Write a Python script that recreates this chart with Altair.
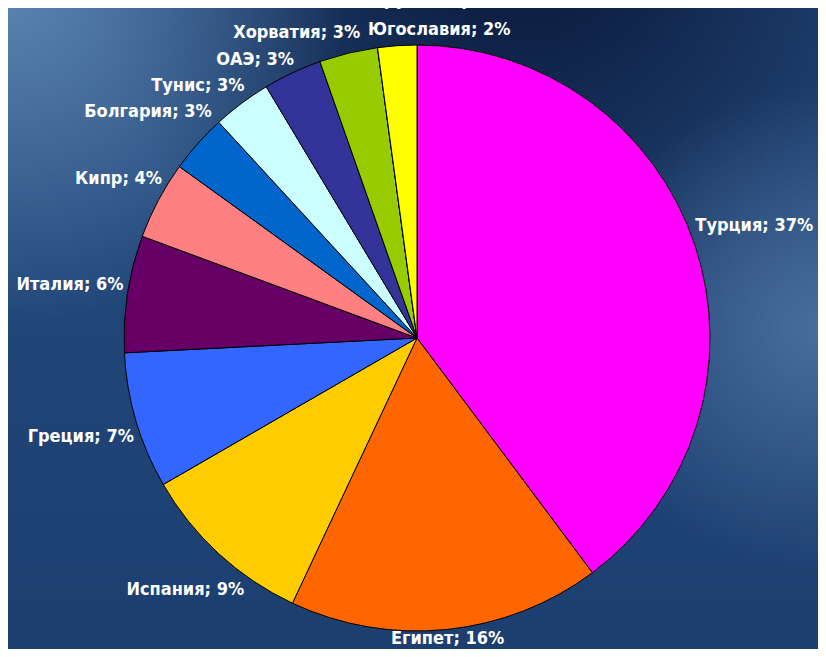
import math
import altair as alt
import pandas as pd

# ---- data ----
countries = ["Турция", "Египет", "Испания", "Греция", "Италия", "Кипр",
             "Болгария", "Тунис", "ОАЭ", "Хорватия", "Другие страны", "Югославия"]
shares = [37, 16, 9, 7, 6, 4, 3, 3, 3, 3, 0, 2]
slice_colors = ["#FF00FF", "#FF6600", "#FFCC00", "#3366FF", "#660066", "#FF8080",
                "#0066CC", "#CCFFFF", "#333399", "#99CC00", "#808080", "#FFFF00"]

# ---- layout constants ----
W, H = 810, 641
CX, CY = 409, 330
R = 293
FONT_SIZE = 18
CHAR_W = 10.9
LABEL_H = 16
GAP = 3
MX, MY = 6, 10
STEP = 0.2

labels = [f"{c}; {v}%" for c, v in zip(countries, shares)]
total = sum(shares)

# mid angle of every slice (degrees, clockwise from 12 o'clock)
mids = []
acc = 0.0
for v in shares:
    mids.append((acc + v / 2) / total * 360.0)
    acc += v

widths = [len(t) * CHAR_W for t in labels]


def label_radius(theta, w):
    t = math.radians(theta)
    r = R + GAP + abs(math.sin(t)) * w / 2 + abs(math.cos(t)) * LABEL_H / 2
    # keep labels inside the canvas at the bottom
    c = math.cos(t)
    if c < 0:
        r = min(r, (H - 2 - LABEL_H / 2 - CY) / -c)
    return r


def box(theta, w):
    r = label_radius(theta, w)
    t = math.radians(theta)
    x = CX + r * math.sin(t)
    y = CY - r * math.cos(t)
    return (x - w / 2, x + w / 2, y - LABEL_H / 2, y + LABEL_H / 2)


def overlap(i, j, ang):
    a = box(ang[i], widths[i])
    b = box(ang[j], widths[j])
    return not (a[1] + MX < b[0] or b[1] + MX < a[0] or a[3] + MY < b[2] or b[3] + MY < a[2])


# label layout: the last pair spreads both ways, the others are pushed counter-clockwise
order = [i for i, v in enumerate(shares) if v > 0]
ang = list(mids)
a, b = order[-2], order[-1]
guard = 0
while overlap(a, b, ang) and guard < 2000:
    ang[a] -= STEP
    ang[b] += STEP
    guard += 1
for k in range(len(order) - 3, -1, -1):
    i, j = order[k], order[k + 1]
    guard = 0
    while overlap(i, j, ang) and guard < 2000:
        ang[i] -= STEP
        guard += 1

radii = [label_radius(ang[i], widths[i]) for i in range(len(shares))]
# zero-valued slices: label stacked outward above the following label
for i, v in enumerate(shares):
    if v == 0:
        j = i + 1 if i + 1 < len(shares) else i - 1
        ang[i] = ang[j] + 3
        radii[i] = radii[j] + LABEL_H + 16

df = pd.DataFrame({
    "country": countries,
    "value": shares,
    "label": labels,
    "idx": list(range(len(countries))),
    "label_angle": ang,
    "label_r": radii,
})

bg_data = pd.DataFrame({"bg": [0]})


def rect_layer(fill):
    return alt.Chart(bg_data).mark_rect(fill=fill, strokeWidth=0).encode(
        x=alt.value(0), x2=alt.value(W), y=alt.value(0), y2=alt.value(H)
    )


def radial(x, y, r, color_in, color_out):
    return alt.RadialGradient(
        gradient="radial", x1=x, y1=y, r1=0, x2=x, y2=y, r2=r,
        stops=[alt.GradientStop(offset=0, color=color_in),
               alt.GradientStop(offset=1, color=color_out)],
    )


bg_base = rect_layer(alt.LinearGradient(
    gradient="linear", x1=0, y1=0, x2=0, y2=1,
    stops=[alt.GradientStop(offset=0, color="#244b7e"),
           alt.GradientStop(offset=1, color="#1c3f70")]))
bg_dark = rect_layer(radial(0.64, 0.0, 0.55, "rgba(8,20,52,1)", "rgba(8,20,52,0)"))
bg_light_left = rect_layer(radial(0.0, 0.08, 0.42, "rgba(92,132,176,1)", "rgba(92,132,176,0)"))
bg_light_right = rect_layer(radial(1.0, 0.5, 0.3, "rgba(80,116,162,0.85)", "rgba(80,116,162,0)"))

pie = alt.Chart(df).mark_arc(radius=R, stroke="black", strokeWidth=1).encode(
    theta=alt.Theta("value:Q", stack=True),
    color=alt.Color("country:N", scale=alt.Scale(domain=countries, range=slice_colors), legend=None),
    order=alt.Order("idx:Q"),
    x=alt.value(CX), y=alt.value(CY),
)

text = alt.Chart(df).mark_text(
    font="Liberation Sans Narrow, DejaVu Sans Condensed, Roboto, sans-serif",
    fontSize=FONT_SIZE, fontWeight="bold", color="white",
    align="center", baseline="middle",
).encode(
    theta=alt.Theta("label_angle:Q", stack=None,
                    scale=alt.Scale(domain=[0, 360], range=[0, 2 * math.pi])),
    radius=alt.Radius("label_r:Q", scale=alt.Scale(type="linear", domain=[0, 1000], range=[0, 1000])),
    text="label:N",
    x=alt.value(CX), y=alt.value(CY),
)

chart = alt.layer(bg_base, bg_dark, bg_light_left, bg_light_right, pie, text).resolve_scale(
    theta="independent", radius="independent", color="independent"
).properties(
    width=W, height=H, padding=0, autosize=alt.AutoSizeParams(type="none")
).configure_view(stroke=None)

chart.save("out.html", embed_options={"renderer": "svg", "actions": False})
